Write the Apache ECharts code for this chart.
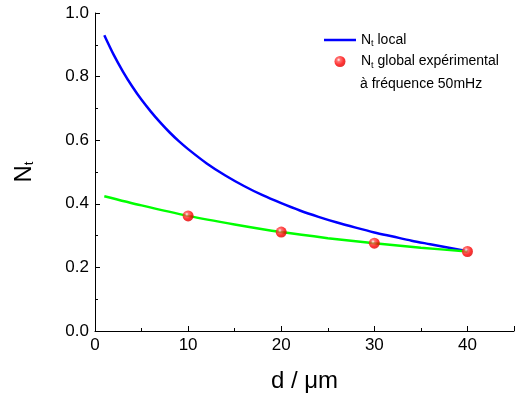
<!DOCTYPE html>
<html>
<head>
<meta charset="utf-8">
<script src="https://cdn.jsdelivr.net/npm/echarts@6/dist/echarts.min.js"></script>
<style>html,body{margin:0;padding:0;background:#fff}#c{width:517px;height:398px}</style>
</head>
<body>
<div id="c"></div>
<script>
// Data
const localD = [1, 2, 3, 4, 5, 6, 7, 8, 9, 10, 12, 14, 16, 18, 20, 22, 24, 26, 28, 30, 32, 34, 36, 38, 40];
const localNt = [0.93, 0.869, 0.816, 0.769, 0.727, 0.69, 0.656, 0.625, 0.597, 0.572, 0.527, 0.489, 0.456, 0.427, 0.402, 0.379, 0.359, 0.341, 0.325, 0.31, 0.297, 0.284, 0.273, 0.262, 0.251];
const fitD = [1, 5, 10, 15, 20, 25, 30, 35, 40];
const fitNt = [0.424, 0.395, 0.362, 0.335, 0.311, 0.292, 0.276, 0.262, 0.25];
const expD = [10, 20, 30, 40];
const expNt = [0.362, 0.311, 0.276, 0.25];
const xTicks = [0, 10, 20, 30, 40];
const yTicks = [0.0, 0.2, 0.4, 0.6, 0.8, 1.0];

const FONT = 'Liberation Sans';
const chart = echarts.init(document.getElementById('c'), null, {renderer: 'canvas'});
const zip = (a, b) => a.map((v, i) => [v, b[i]]);
const sub = {
  n: {fontFamily: FONT, fontSize: 14, color: '#000'},
  s: {fontFamily: FONT, fontSize: 9, color: '#000', verticalAlign: 'bottom', padding: [8, 0, 0, 0]}
};
chart.setOption({
  animation: false,
  backgroundColor: '#fff',
  grid: {left: 95, top: 13, height: 318, width: 430, show: false},
  xAxis: {
    type: 'value', min: 0, max: 45, interval: 10,
    name: 'd / μm', nameLocation: 'middle', nameGap: 38,
    nameTextStyle: {fontFamily: FONT, fontSize: 24, color: '#000'},
    axisLine: {show: true, onZero: false, lineStyle: {color: '#000', width: 1}},
    axisTick: {show: true, inside: true, length: 5, lineStyle: {color: '#000'}},
    minorTick: {show: true, splitNumber: 2, length: 3, lineStyle: {color: '#000'}},
    splitLine: {show: false},
    axisLabel: {fontFamily: FONT, fontSize: 17, color: '#000', margin: 6,
      formatter: v => xTicks.indexOf(v) >= 0 ? String(v) : ''}
  },
  yAxis: {
    type: 'value', min: 0, max: 1, interval: 0.2,
    name: '{N|N}{t|t}', nameLocation: 'middle', nameGap: 59, nameRotate: 90,
    nameTextStyle: {fontFamily: FONT, fontSize: 24, color: '#000',
      rich: {N: {fontFamily: FONT, fontSize: 24, color: '#000'},
             t: {fontFamily: FONT, fontSize: 13, color: '#000', verticalAlign: 'bottom', padding: [10, 0, 0, 0]}}},
    axisLine: {show: true, onZero: false, lineStyle: {color: '#000', width: 1}},
    axisTick: {show: true, inside: true, length: 5, lineStyle: {color: '#000'}},
    minorTick: {show: true, splitNumber: 2, length: 3, lineStyle: {color: '#000'}},
    splitLine: {show: false},
    axisLabel: {fontFamily: FONT, fontSize: 17, color: '#000', margin: 6,
      formatter: v => { const f = yTicks.find(t => Math.abs(t - v) < 1e-6); return f === undefined ? '' : f.toFixed(1); }}
  },
  legend: {
    orient: 'vertical', left: 324, top: 33, padding: 0, itemWidth: 32, itemHeight: 11, itemGap: 6,
    data: [{name: 'local', icon: 'path://M0,0H64V5H0Z', itemStyle: {color: '#0000ff'}}, {name: 'global'}],
    formatter: n => n === 'local' ? '{n|N}{s|t}{n| local}' : '{n|N}{s|t}{n| global expérimental}',
    textStyle: {fontFamily: FONT, fontSize: 14, color: '#000', rich: sub}
  },
  graphic: [{type: 'text', left: 360, top: 77,
    style: {text: 'à fréquence 50mHz', font: '14px "Liberation Sans"', fill: '#000'}}],
  series: [
    {name: 'local', type: 'line', data: zip(localD, localNt), smooth: 0.3, symbol: 'none',
     lineStyle: {color: '#0000ff', width: 2.5}, itemStyle: {color: '#0000ff'}, z: 2},
    {name: 'fit', type: 'line', data: zip(fitD, fitNt), smooth: 0.3, symbol: 'none',
     lineStyle: {color: '#00ff00', width: 2.5}, z: 2},
    {name: 'global', type: 'scatter', data: zip(expD, expNt), symbol: 'circle', symbolSize: 11, z: 5,
     itemStyle: {color: {type: 'radial', x: 0.38, y: 0.35, r: 0.75,
       colorStops: [{offset: 0, color: '#ffffff'}, {offset: 0.22, color: '#ff5050'}, {offset: 0.6, color: '#ff0000'}, {offset: 1, color: '#d00000'}]}}}
  ]
});
</script>
</body>
</html>
